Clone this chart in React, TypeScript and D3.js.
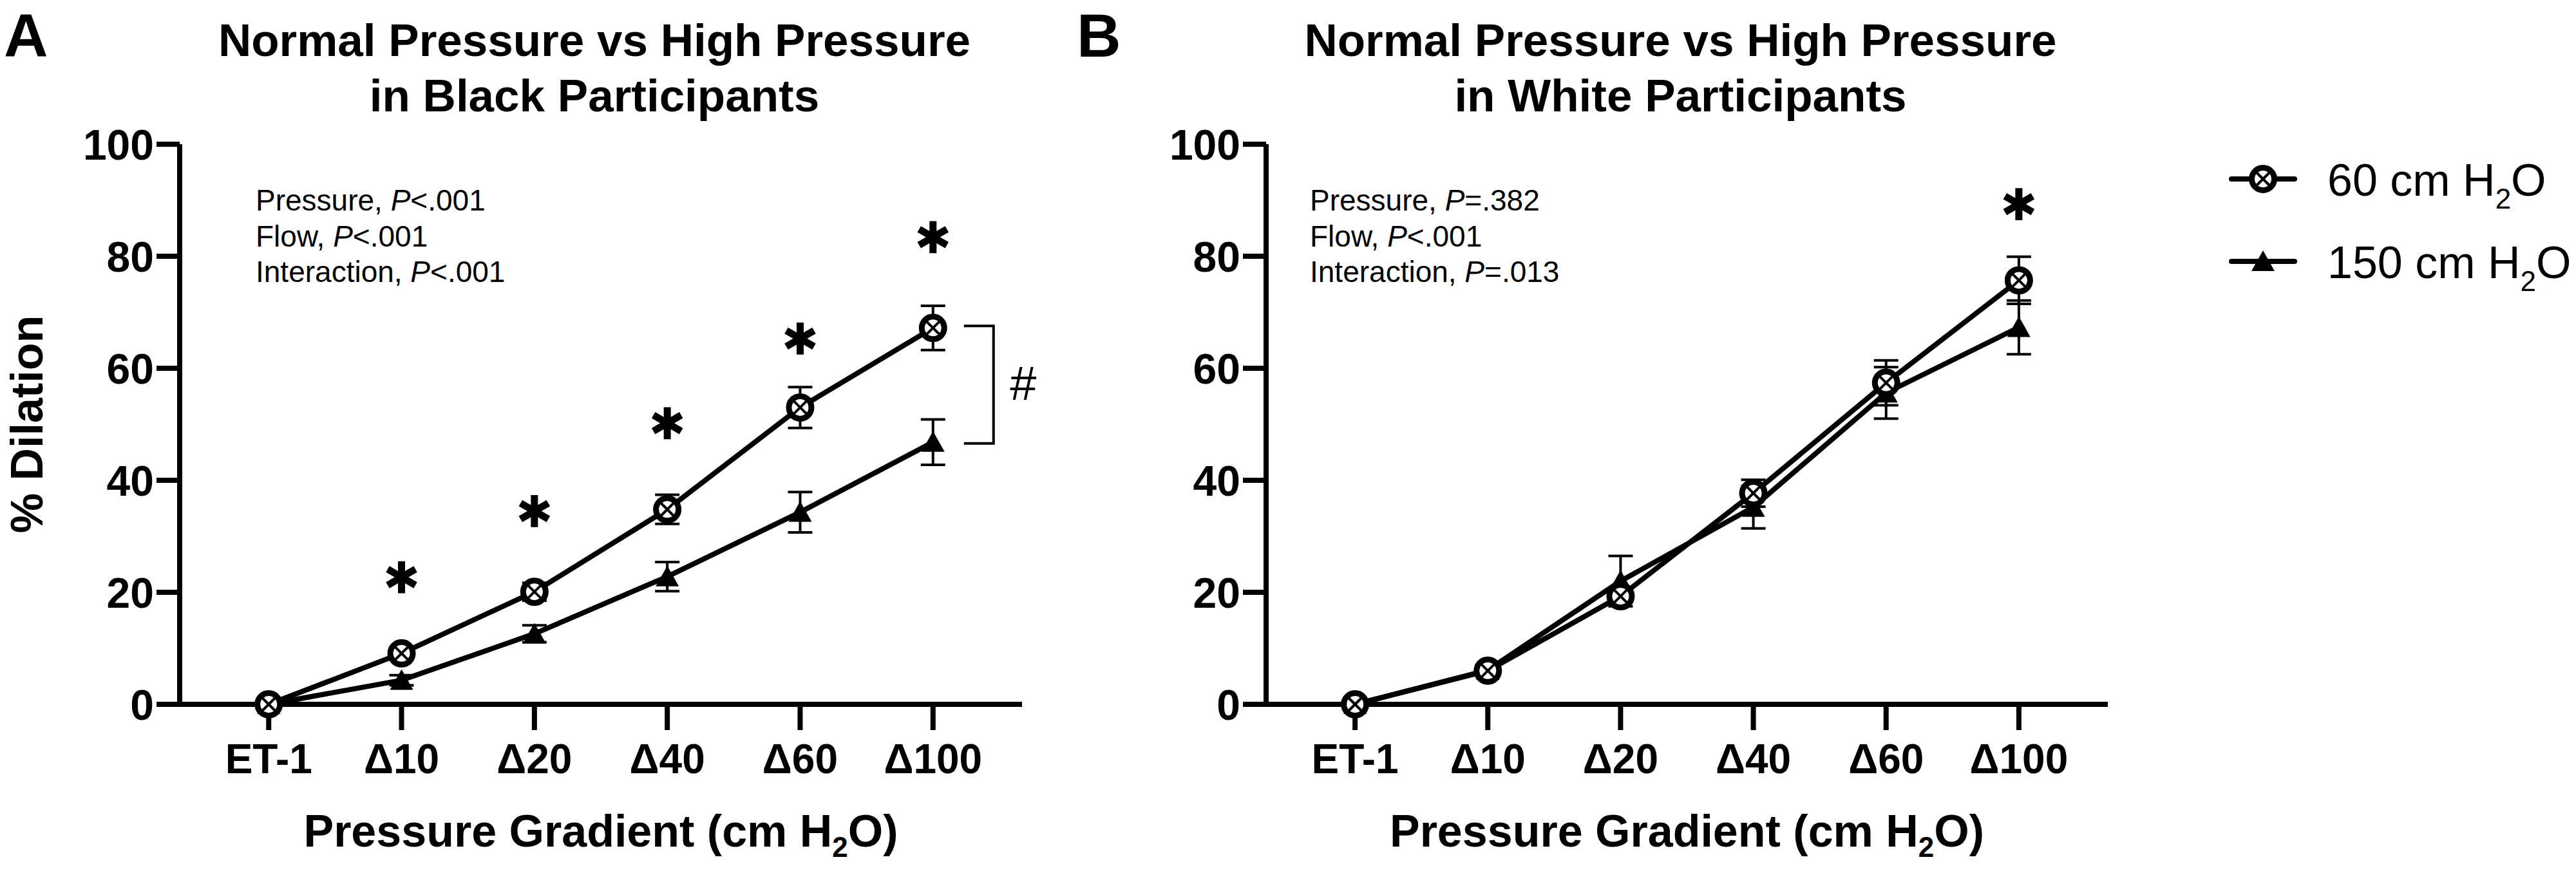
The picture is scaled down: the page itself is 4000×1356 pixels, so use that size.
import React from "react";
import * as d3 from "d3";

const categories = ["ET-1", "Δ10", "Δ20", "Δ40", "Δ60", "Δ100"];
const yTicks = [0, 20, 40, 60, 80, 100];

// Panel A: Black participants
const blackNormal = [0, 9.1, 20.1, 34.8, 53.0, 67.2];
const blackNormalErr = [0.4, 1.0, 1.6, 2.6, 3.65, 3.95];
const blackHigh = [0, 4.3, 12.6, 22.8, 34.3, 46.8];
const blackHighErr = [0.3, 0.9, 1.5, 2.6, 3.6, 4.05];
const blackStars = [null, 22.7, 34.5, 50.2, 65.3, 83.4];

// Panel B: White participants
const whiteNormal = [0, 6.0, 19.3, 37.7, 57.4, 75.7];
const whiteNormalErr = [0.4, 0.8, 1.0, 2.4, 4.0, 4.2];
const whiteHigh = [0, 6.1, 22.0, 35.2, 55.6, 67.3];
const whiteHighErr = [0.3, 0.8, 4.5, 3.8, 4.6, 4.8];
const whiteStars = [null, null, null, null, null, 89.3];

const statsA = [
  ["Pressure, ", "P", "<.001"],
  ["Flow, ", "P", "<.001"],
  ["Interaction, ", "P", "<.001"],
];
const statsB = [
  ["Pressure, ", "P", "=.382"],
  ["Flow, ", "P", "<.001"],
  ["Interaction, ", "P", "=.013"],
];

const seriesNames = ["60 cm H", "150 cm H"];

const FONT = "'Liberation Sans', Arial, Helvetica, sans-serif";

function CircleMarker({ x, y }: { x: number; y: number }) {
  const r = 17.5;
  const d = r * 0.7;
  return (
    <g>
      <circle cx={x} cy={y} r={r} fill="#fff" stroke="#000" strokeWidth={9} />
      <line x1={x - d} y1={y - d} x2={x + d} y2={y + d} stroke="#000" strokeWidth={4} />
      <line x1={x - d} y1={y + d} x2={x + d} y2={y - d} stroke="#000" strokeWidth={4} />
    </g>
  );
}

function TriMarker({ x, y }: { x: number; y: number }) {
  return <path d={`M${x},${y - 17} L${x + 18},${y + 15} L${x - 18},${y + 15} Z`} fill="#000" />;
}

const asteriskPath = d3.symbol().type(d3.symbolAsterisk).size(1750)() as string;

function Panel({
  x0,
  x1,
  letter,
  letterX,
  title2,
  normal,
  normalErr,
  high,
  highErr,
  stars,
  stats,
  statsX,
  yLabel,
  bracket,
}: any) {
  const y = d3.scaleLinear().domain([0, 100]).range([1094, 224]);
  const x = d3.scalePoint<string>().domain(categories).range([x0, x1]).padding(0.67);
  const line = d3
    .line<number>()
    .x((_, i) => x(categories[i]) as number)
    .y((v) => y(v));
  const cx = (x0 + x1) / 2 - 10;
  const capW = 19;

  const errBars = (vals: number[], errs: number[]) =>
    vals.map((v, i) => {
      const px = x(categories[i]) as number;
      const top = y(v + errs[i]);
      const bot = y(v - errs[i]);
      return (
        <g key={i} stroke="#000" strokeWidth={4}>
          <line x1={px} x2={px} y1={top} y2={bot} />
          <line x1={px - capW} x2={px + capW} y1={top} y2={top} />
          <line x1={px - capW} x2={px + capW} y1={bot} y2={bot} />
        </g>
      );
    });

  return (
    <g fontFamily={FONT}>
      <text x={letterX} y={88} fontSize={95} fontWeight="bold">
        {letter}
      </text>
      <text x={cx} y={87} fontSize={71} fontWeight="bold" textAnchor="middle">
        Normal Pressure vs High Pressure
      </text>
      <text x={cx} y={173} fontSize={71} fontWeight="bold" textAnchor="middle">
        {title2}
      </text>

      {/* axes */}
      <line x1={x0} x2={x0} y1={y(100)} y2={y(0) + 4} stroke="#000" strokeWidth={8} />
      <line x1={x0 - 4} x2={x1} y1={y(0)} y2={y(0)} stroke="#000" strokeWidth={8} />
      {yTicks.map((t) => (
        <g key={t}>
          <line x1={x0 - 36} x2={x0} y1={y(t)} y2={y(t)} stroke="#000" strokeWidth={8} />
          <text x={x0 - 40} y={y(t) + 23.5} fontSize={66} fontWeight="bold" textAnchor="end">
            {t}
          </text>
        </g>
      ))}
      {categories.map((c) => (
        <g key={c}>
          <line x1={x(c)} x2={x(c)} y1={y(0)} y2={y(0) + 40} stroke="#000" strokeWidth={8} />
          <text x={x(c)} y={1201} fontSize={64} fontWeight="bold" textAnchor="middle">
            {c}
          </text>
        </g>
      ))}
      <text x={cx + 10} y={1315} fontSize={70} fontWeight="bold" textAnchor="middle">
        Pressure Gradient (cm H
        <tspan fontSize={44} dy={16}>
          2
        </tspan>
        <tspan dy={-16}>O)</tspan>
      </text>
      {yLabel && (
        <text
          transform={`translate(66, ${(y(0) + y(100)) / 2}) rotate(-90)`}
          fontSize={70}
          fontWeight="bold"
          textAnchor="middle"
        >
          % Dilation
        </text>
      )}

      {/* stats */}
      {stats.map((s: string[], i: number) => (
        <text key={i} x={statsX} y={327 + i * 55.5} fontSize={46}>
          {s[0]}
          <tspan fontStyle="italic">{s[1]}</tspan>
          {s[2]}
        </text>
      ))}

      {/* error bars */}
      {errBars(high, highErr)}
      {errBars(normal, normalErr)}

      {/* lines */}
      <path d={line(high) as string} fill="none" stroke="#000" strokeWidth={8} strokeLinejoin="round" />
      <path d={line(normal) as string} fill="none" stroke="#000" strokeWidth={8} strokeLinejoin="round" />

      {/* markers */}
      {high.map((v: number, i: number) => (
        <TriMarker key={"t" + i} x={x(categories[i]) as number} y={y(v)} />
      ))}
      {normal.map((v: number, i: number) => (
        <CircleMarker key={"c" + i} x={x(categories[i]) as number} y={y(v)} />
      ))}

      {/* significance */}
      {stars.map((s: number | null, i: number) =>
        s === null ? null : (
          <path
            key={"s" + i}
            d={asteriskPath}
            transform={`translate(${x(categories[i])}, ${y(s)})`}
            fill="none"
            stroke="#000"
            strokeWidth={11}
          />
        )
      )}

      {bracket && (
        <g>
          <path
            d={`M${x(categories[5])! + 48},${y(normal[5]) - 3} H${x(categories[5])! + 94} V${y(high[5]) + 2} H${
              x(categories[5])! + 48
            }`}
            fill="none"
            stroke="#000"
            strokeWidth={4}
          />
          <text x={x(categories[5])! + 140} y={621} fontSize={74} textAnchor="middle">
            #
          </text>
        </g>
      )}
    </g>
  );
}

export default function App() {
  return (
    <svg
      width={4000}
      height={1356}
      viewBox="0 0 4000 1356"
      style={{ position: "absolute", left: 0, top: 0, background: "#fff" }}
    >
      <rect x={0} y={0} width={4000} height={1356} fill="#fff" />
      <Panel
        x0={279}
        x1={1587}
        letter="A"
        letterX={6}
        title2="in Black Participants"
        normal={blackNormal}
        normalErr={blackNormalErr}
        high={blackHigh}
        highErr={blackHighErr}
        stars={blackStars}
        stats={statsA}
        statsX={397}
        yLabel={true}
        bracket={true}
      />
      <Panel
        x0={1966}
        x1={3273}
        letter="B"
        letterX={1672}
        title2="in White Participants"
        normal={whiteNormal}
        normalErr={whiteNormalErr}
        high={whiteHigh}
        highErr={whiteHighErr}
        stars={whiteStars}
        stats={statsB}
        statsX={2034}
        yLabel={false}
        bracket={false}
      />

      {/* legend */}
      <g fontFamily={FONT}>
        <line x1={3465} x2={3563} y1={278} y2={278} stroke="#000" strokeWidth={8} strokeLinecap="round" />
        <CircleMarker x={3514} y={278} />
        <text x={3614} y={304} fontSize={70}>
          {seriesNames[0]}
          <tspan fontSize={44} dy={20}>
            2
          </tspan>
          <tspan dy={-20}>O</tspan>
        </text>
        <line x1={3465} x2={3563} y1={406} y2={406} stroke="#000" strokeWidth={8} strokeLinecap="round" />
        <TriMarker x={3514} y={406} />
        <text x={3614} y={432} fontSize={70}>
          {seriesNames[1]}
          <tspan fontSize={44} dy={20}>
            2
          </tspan>
          <tspan dy={-20}>O</tspan>
        </text>
      </g>
    </svg>
  );
}
